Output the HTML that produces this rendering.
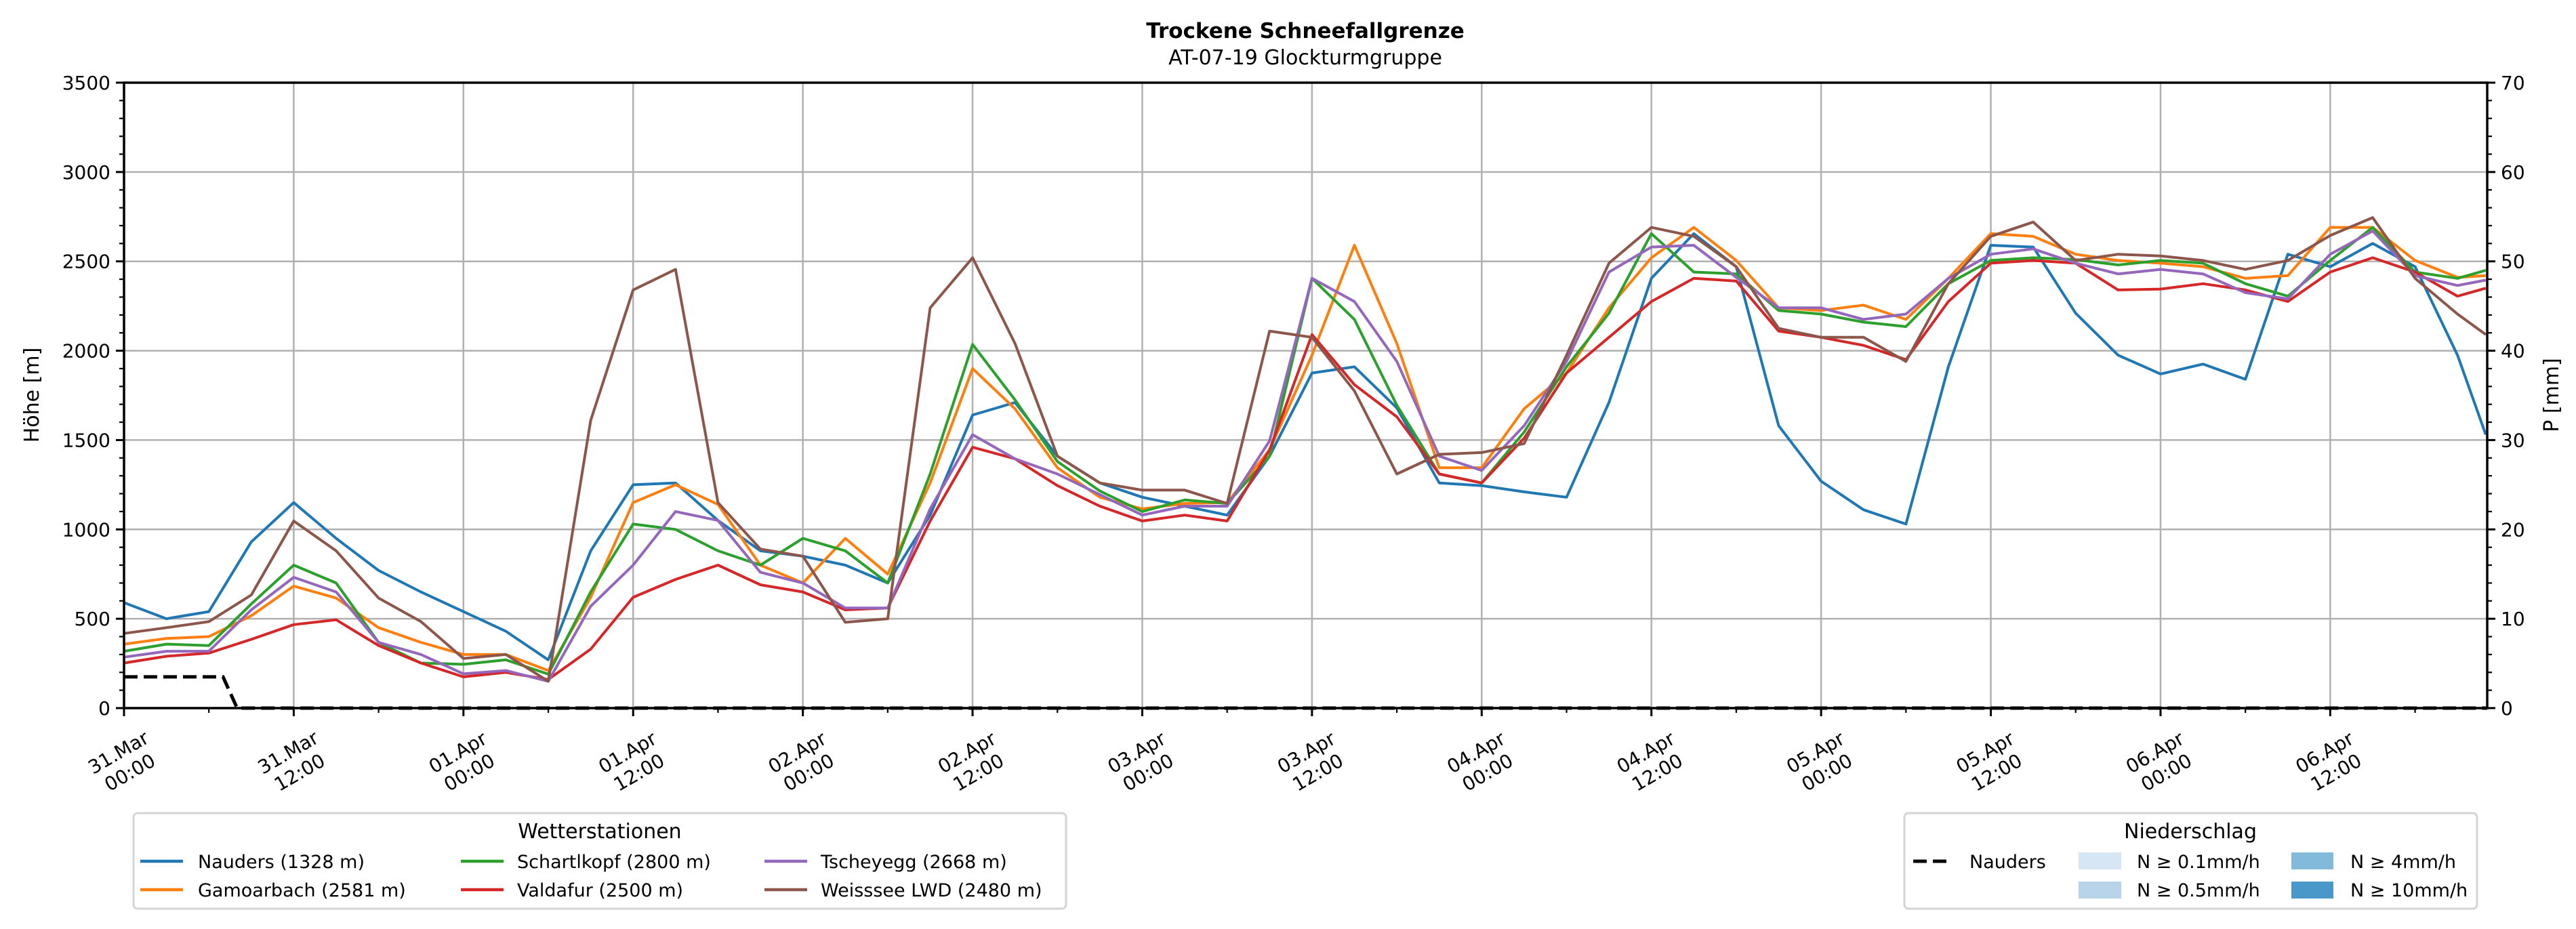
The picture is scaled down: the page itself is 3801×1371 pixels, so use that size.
<!DOCTYPE html>
<html><head><meta charset="utf-8">
<style>
html,body{margin:0;padding:0;background:#fff;}
svg{display:block;font-family:"DejaVu Sans","Liberation Sans",sans-serif;}
</style></head>
<body>
<svg id="chart" width="3801" height="1371" viewBox="0 0 3801 1371" xmlns="http://www.w3.org/2000/svg">
  <rect x="0" y="0" width="3801" height="1371" fill="#fff"/>
  <text x="1926" y="56" text-anchor="middle" font-size="31" font-weight="bold">Trockene Schneefallgrenze</text>
  <text x="1926" y="95" text-anchor="middle" font-size="30">AT-07-19 Glockturmgruppe</text>
  <g id="grid"></g>
  <g id="series"></g>
  <g id="axes"></g>
  <text transform="translate(57,583) rotate(-90)" text-anchor="middle" font-size="30">Höhe [m]</text>
  <text transform="translate(3775,583) rotate(-90)" text-anchor="middle" font-size="30">P [mm]</text>

  <g>
    <rect x="197" y="1200" width="1376" height="141" rx="6" fill="#fff" stroke="#d5d5d5" stroke-width="3"/>
    <text x="885" y="1237" text-anchor="middle" font-size="30">Wetterstationen</text>
    <g font-size="27">
      <line x1="207" y1="1271" x2="270" y2="1271" stroke="#1f77b4" stroke-width="4.5"/>
      <text x="292" y="1281">Nauders (1328 m)</text>
      <line x1="207" y1="1313" x2="270" y2="1313" stroke="#ff7f0e" stroke-width="4.5"/>
      <text x="292" y="1323">Gamoarbach (2581 m)</text>
      <line x1="680" y1="1271" x2="743" y2="1271" stroke="#2ca02c" stroke-width="4.5"/>
      <text x="763" y="1281">Schartlkopf (2800 m)</text>
      <line x1="680" y1="1313" x2="743" y2="1313" stroke="#d62728" stroke-width="4.5"/>
      <text x="763" y="1323">Valdafur (2500 m)</text>
      <line x1="1128" y1="1271" x2="1191" y2="1271" stroke="#9467bd" stroke-width="4.5"/>
      <text x="1211" y="1281">Tscheyegg (2668 m)</text>
      <line x1="1128" y1="1313" x2="1191" y2="1313" stroke="#8c564b" stroke-width="4.5"/>
      <text x="1211" y="1323">Weisssee LWD (2480 m)</text>
    </g>
  </g>

  <g>
    <rect x="2810" y="1200" width="845" height="141" rx="6" fill="#fff" stroke="#d5d5d5" stroke-width="3"/>
    <text x="3232" y="1237" text-anchor="middle" font-size="30">Niederschlag</text>
    <g font-size="27">
      <line x1="2823" y1="1271" x2="2877" y2="1271" stroke="#000" stroke-width="5" stroke-dasharray="20,9"/>
      <text x="2906" y="1281">Nauders</text>
      <rect x="3067" y="1258" width="63" height="25" fill="#d6e6f4"/>
      <text x="3153" y="1281">N ≥ 0.1mm/h</text>
      <rect x="3067" y="1301" width="63" height="25" fill="#b7d4ea"/>
      <text x="3153" y="1323">N ≥ 0.5mm/h</text>
      <rect x="3381" y="1258" width="62" height="25" fill="#82badb"/>
      <text x="3468" y="1281">N ≥ 4mm/h</text>
      <rect x="3381" y="1301" width="62" height="25" fill="#4a98c9"/>
      <text x="3468" y="1323">N ≥ 10mm/h</text>
    </g>
  </g>
</svg>
<script>
// hours since 31.Mar 00:00
const hours = [0,3,6,9,12,15,18,21,24,27,30,33,36,39,42,45,48,51,54,57,60,63,66,69,72,75,78,81,84,87,90,93,96,99,102,105,108,111,114,117,120,123,126,129,132,135,138,141,144,147,150,153,156,159,162,165,167];
const nauders = [590,500,540,930,1150,950,770,650,540,430,270,880,1250,1260,1050,880,850,800,700,1080,1640,1710,1410,1260,1180,1130,1080,1410,1875,1910,1680,1260,1245,1210,1180,1710,2405,2655,2470,1580,1270,1110,1030,1910,2590,2580,2210,1975,1870,1925,1840,2540,2470,2600,2470,1975,1530];
const gamoarbach = [358,390,400,517,683,616,450,368,300,300,210,620,1150,1250,1140,800,700,950,750,1260,1900,1675,1345,1180,1115,1145,1150,1445,1975,2590,2040,1345,1345,1675,1875,2240,2520,2690,2505,2240,2225,2255,2175,2405,2655,2640,2540,2505,2490,2470,2405,2420,2690,2690,2505,2410,2420];
const schartlkopf = [318,358,350,583,800,700,368,252,245,270,190,650,1030,1000,880,800,950,880,700,1310,2035,1725,1380,1215,1100,1165,1145,1410,2405,2175,1695,1310,1260,1545,1910,2210,2655,2440,2430,2225,2205,2160,2135,2375,2505,2520,2510,2480,2505,2490,2375,2305,2505,2690,2440,2405,2450];
const valdafur = [252,290,308,385,467,494,350,252,175,200,160,330,620,720,800,690,650,550,560,1047,1460,1395,1245,1130,1047,1080,1047,1445,2090,1810,1630,1310,1260,1510,1875,2075,2275,2405,2390,2110,2075,2030,1950,2275,2490,2505,2490,2340,2345,2375,2340,2275,2440,2520,2440,2305,2350];
const tscheyegg = [285,318,318,550,732,650,368,300,192,210,150,570,800,1100,1050,760,700,560,560,1115,1530,1395,1310,1195,1080,1130,1130,1495,2405,2275,1940,1410,1330,1580,1940,2440,2580,2590,2410,2240,2240,2175,2205,2405,2540,2570,2490,2430,2455,2430,2325,2290,2540,2670,2420,2365,2395];
const weisssee = [418,450,484,633,1047,880,616,484,278,300,150,1610,2340,2455,1150,890,850,480,500,2240,2520,2040,1410,1260,1220,1220,1145,2110,2075,1775,1310,1420,1430,1480,1975,2490,2690,2640,2470,2125,2075,2075,1940,2375,2640,2720,2505,2540,2530,2505,2455,2505,2645,2745,2405,2205,2090];
const precipHours = [0,7,8,167.1];
const precipNauders = [3.5,3.5,0,0];
const yTicks = [0,500,1000,1500,2000,2500,3000,3500];
const y2Ticks = [0,10,20,30,40,50,60,70];
const xTickHours = [0,12,24,36,48,60,72,84,96,108,120,132,144,156];
const xTickDates = ["31.Mar","31.Mar","01.Apr","01.Apr","02.Apr","02.Apr","03.Apr","03.Apr","04.Apr","04.Apr","05.Apr","05.Apr","06.Apr","06.Apr"];
const xTickTimes = ["00:00","12:00","00:00","12:00","00:00","12:00","00:00","12:00","00:00","12:00","00:00","12:00","00:00","12:00"];

const NS = "http://www.w3.org/2000/svg";
const L = 183, R = 3670, T = 122, B = 1045;
const HMAX = 167.1;
const xs = h => L + h / HMAX * (R - L);
const ys = v => B - v / 3500 * (B - T);
const ys2 = v => B - v / 70 * (B - T);
function mk(tag, attrs, parent) {
  const el = document.createElementNS(NS, tag);
  for (const k in attrs) el.setAttribute(k, attrs[k]);
  parent.appendChild(el);
  return el;
}
const grid = document.getElementById('grid');
const series = document.getElementById('series');
const axes = document.getElementById('axes');

xTickHours.forEach(h => {
  const g = mk('line', {x1: xs(h), x2: xs(h), y1: T, y2: B, stroke: '#b0b0b0', 'stroke-width': 2.5}, grid);
  
  
});
yTicks.forEach(v => {
  const g = mk('line', {x1: L, x2: R, y1: ys(v), y2: ys(v), stroke: '#b0b0b0', 'stroke-width': 2.5}, grid);
  
  
});

const defs = [
  ['nauders', nauders, '#1f77b4'],
  ['gamoarbach', gamoarbach, '#ff7f0e'],
  ['schartlkopf', schartlkopf, '#2ca02c'],
  ['valdafur', valdafur, '#d62728'],
  ['tscheyegg', tscheyegg, '#9467bd'],
  ['weisssee', weisssee, '#8c564b']
];
defs.forEach(([name, vals, col]) => {
  const pts = vals.map((v, i) => xs(hours[i]).toFixed(1) + ',' + ys(v).toFixed(1)).join(' ');
  const p = mk('polyline', {points: pts, fill: 'none', stroke: col, 'stroke-width': 4, 'stroke-linejoin': 'round'}, series);
  
  
});
const ppts = precipNauders.map((v, i) => xs(precipHours[i]).toFixed(1) + ',' + ys2(v).toFixed(1)).join(' ');
const pl = mk('polyline', {points: ppts, fill: 'none', stroke: '#000', 'stroke-width': 5, 'stroke-dasharray': '20,9'}, series);



const fr = mk('rect', {x: L, y: T, width: R - L, height: B - T, fill: 'none', stroke: '#000', 'stroke-width': 3.5}, axes);



for (let v = 0; v <= 3500; v += 100) {
  const major = v % 500 === 0;
  mk('line', {x1: L, x2: L - (major ? 12 : 7), y1: ys(v), y2: ys(v), stroke: '#000', 'stroke-width': major ? 3 : 2.2}, axes);
}
yTicks.forEach(v => {
  const t = mk('text', {x: L - 20, y: ys(v) + 10, 'text-anchor': 'end', 'font-size': 28}, axes);
  t.textContent = v;
  
  
});
for (let v = 0; v <= 70; v += 2) {
  const major = v % 10 === 0;
  mk('line', {x1: R, x2: R + (major ? 12 : 7), y1: ys2(v), y2: ys2(v), stroke: '#000', 'stroke-width': major ? 3 : 2.2}, axes);
}
y2Ticks.forEach(v => {
  const t = mk('text', {x: R + 20, y: ys2(v) + 10, 'text-anchor': 'start', 'font-size': 28}, axes);
  t.textContent = v;
  
  
});
for (let h = 0; h <= HMAX; h += 6) {
  const major = h % 12 === 0;
  mk('line', {x1: xs(h), x2: xs(h), y1: B, y2: B + (major ? 12 : 7), stroke: '#000', 'stroke-width': major ? 3 : 2.2}, axes);
}
xTickHours.forEach((h, i) => {
  const cx = xs(h), cy = 1125;
  const t = mk('text', {'text-anchor': 'middle', 'font-size': 28, transform: 'translate(' + cx + ',' + cy + ') rotate(-30)'}, axes);
  
  
  const a = mk('tspan', {x: 0, y: -7}, t);
  a.textContent = xTickDates[i];
  const b = mk('tspan', {x: 0, y: 27}, t);
  b.textContent = xTickTimes[i];
});
</script>
</body></html>
